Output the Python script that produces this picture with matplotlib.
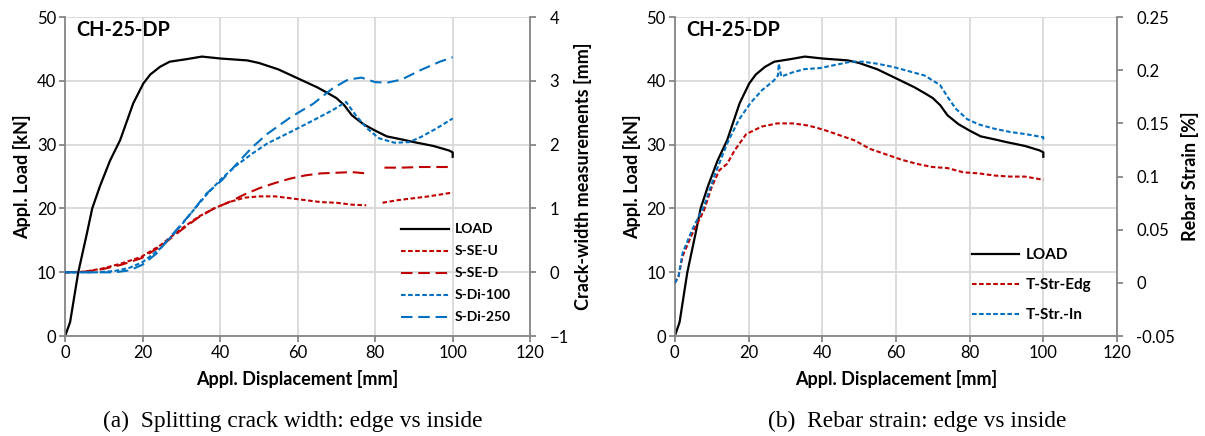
import numpy as np
import matplotlib
matplotlib.use("Agg")
import matplotlib.pyplot as plt

plt.rcParams['font.family'] = ['Lato', 'DejaVu Sans']

nan = np.nan

# LOAD curve (shared by both panels): displacement [mm], load [kN]
load_x = [0, 1.3, 3.4, 5.6, 7, 9, 11.6, 14.2, 17.6, 20.2, 22, 24.5, 27, 31.4, 35.3, 40, 47, 50,
          55, 60, 65, 68, 70, 72, 74, 77, 80, 83, 87, 90, 95, 99, 100, 100]
load_y = [0, 2.2, 10, 16, 20, 23.5, 27.5, 30.7, 36.5, 39.6, 41, 42.2, 43, 43.4, 43.8, 43.5, 43.2, 42.8,
          41.8, 40.4, 39.0, 38.0, 37.3, 36.2, 34.6, 33.2, 32.2, 31.3, 30.8, 30.4, 29.8, 29.1, 28.8, 28.1]

# (a) crack widths [mm]
se_u_x = [0, 5, 9.7, 14.6, 19.6, 24.5, 29.5, 34.4, 38.4, 42.3, 46.3, 50.2, 54.2, 58.2, 62.1, 66, 70, 74, 77.7,
          nan, 81.9, 85.8, 89.8, 93.8, 100]
se_u_w = [0, 0.01, 0.06, 0.14, 0.24, 0.42, 0.66, 0.87, 1.0, 1.1, 1.17, 1.19, 1.19, 1.16, 1.13, 1.1, 1.09, 1.06, 1.05,
          nan, 1.09, 1.13, 1.16, 1.19, 1.25]
se_d_x = [0, 5, 9.7, 14.6, 19.6, 24.5, 29.5, 34.4, 38.4, 42.3, 46.3, 50.2, 54.2, 58.2, 62.1, 66, 70, 74, 77.7,
          nan, 82.4, 86.8, 91.8, 100]
se_d_w = [0, 0.01, 0.05, 0.12, 0.22, 0.4, 0.64, 0.86, 1.0, 1.1, 1.22, 1.32, 1.40, 1.47, 1.52, 1.55, 1.56, 1.57, 1.55,
          nan, 1.64, 1.64, 1.65, 1.65]
di100_x = [0, 8, 12.7, 16.6, 20, 24.5, 28.5, 32.4, 36.4, 40.4, 44.3, 48.3, 52.2, 58.2, 64, 69, 72.5, 75, 78, 81,
           85, 88.8, 91.8, 95.7, 100]
di100_w = [0, 0.0, 0.02, 0.07, 0.16, 0.37, 0.63, 0.92, 1.21, 1.47, 1.68, 1.86, 2.02, 2.2, 2.38, 2.54, 2.67, 2.46,
           2.25, 2.1, 2.03, 2.04, 2.12, 2.25, 2.41]
di250_x = [0, 8, 12.7, 16.6, 20, 23.5, 27.5, 32.4, 36.4, 40.4, 44.3, 48.3, 52.2, 58.2, 64, 69, 73, 76.5, 80, 83,
           86.8, 91.8, 96.7, 100]
di250_w = [0, 0.0, 0.0, 0.03, 0.12, 0.29, 0.58, 0.92, 1.23, 1.44, 1.70, 1.96, 2.17, 2.43, 2.64, 2.88, 3.02, 3.05,
           2.98, 2.97, 3.02, 3.17, 3.3, 3.37]

# (b) rebar strain [%]
edg_x = [0, 1, 2.1, 4.7, 7.9, 10, 12.1, 14.2, 16.3, 19.4, 23.6, 27.8, 32, 36.2, 40.4, 44.6, 48.8, 53, 57.2, 61.4,
         65.6, 69.9, 74, 78.3, 82.5, 86.7, 90.9, 95, 100]
edg_s = [0, 0.006, 0.025, 0.046, 0.068, 0.09, 0.106, 0.112, 0.125, 0.14, 0.147, 0.15, 0.15, 0.148, 0.144, 0.139,
         0.134, 0.126, 0.121, 0.116, 0.112, 0.109, 0.108, 0.104, 0.103, 0.101, 0.1, 0.1, 0.097]
in_x = [0, 1, 2.1, 4.7, 7.9, 11, 14.2, 17.3, 20.5, 23.6, 26.8, 28, 28.2, 28.9, 32, 35.2, 39.4, 43.6, 47.8, 51,
        55.1, 59.3, 63.6, 67.8, 72, 74, 76.2, 79.3, 82.5, 86.7, 90.9, 95, 100, 100]
in_s = [0, 0.006, 0.028, 0.05, 0.072, 0.103, 0.131, 0.153, 0.169, 0.181, 0.19, 0.195, 0.206, 0.194, 0.198, 0.201,
        0.202, 0.205, 0.208, 0.208, 0.206, 0.203, 0.199, 0.195, 0.186, 0.175, 0.164, 0.154, 0.149, 0.145, 0.142,
        0.14, 0.137, 0.134]

RED = '#c00000'
BLUE = '#0070c0'
GRID = '#d9d9d9'
AXC = '#868686'
DOT = (0, (2.2, 1.2))
LDASH = (0, (5.5, 2.8))


def style(ax, ax2, ylab2, yticks2):
    ax.set_xlim(0, 120)
    ax.set_ylim(0, 50)
    ax.set_xticks(range(0, 121, 20))
    ax.set_yticks(range(0, 51, 10))
    ax.grid(True, color=GRID, lw=1.3)
    ax.set_axisbelow(True)
    ax.spines['top'].set_visible(False)
    ax2.spines['top'].set_visible(False)
    for s in ['left', 'bottom']:
        ax.spines[s].set_color(AXC)
        ax.spines[s].set_linewidth(1.3)
        ax2.spines[s].set_visible(False)
    ax2.spines['right'].set_color(AXC)
    ax2.spines['right'].set_linewidth(1.3)
    ax.spines['right'].set_visible(False)
    ax.tick_params(direction='out', length=4, width=1.3, color=AXC, labelsize=12, pad=2.5)
    ax2.tick_params(direction='out', length=4, width=1.3, color=AXC, labelsize=12, pad=10)
    ax2.set_yticks(yticks2)
    ax.set_xlabel('Appl. Displacement [mm]', fontsize=13, fontweight='bold', labelpad=6)
    ax.set_ylabel('Appl. Load [kN]', fontsize=13, fontweight='bold', labelpad=4)
    ax2.set_ylabel(ylab2, fontsize=13, fontweight='bold', labelpad=4)
    ax.text(0.025, 0.99, 'CH-25-DP', transform=ax.transAxes, fontsize=14.3,
            fontweight='bold', va='top', ha='left')


fig = plt.figure(figsize=(12.05, 4.36), dpi=100)

# (a) splitting crack width
ax = fig.add_axes([0.054, 0.229, 0.386, 0.732])
ax2 = ax.twinx()
ax2.set_ylim(-1, 4)
h0, = ax.plot(load_x, load_y, color='black', lw=1.6, label='LOAD')
h1, = ax2.plot(se_u_x, se_u_w, color=RED, lw=1.5, ls=DOT, label='S-SE-U')
h2, = ax2.plot(se_d_x, se_d_w, color=RED, lw=1.5, ls=LDASH, label='S-SE-D')
h3, = ax2.plot(di100_x, di100_w, color=BLUE, lw=1.5, ls=DOT, label='S-Di-100')
h4, = ax2.plot(di250_x, di250_w, color=BLUE, lw=1.5, ls=LDASH, label='S-Di-250')
style(ax, ax2, 'Crack-width measurements [mm]', range(-1, 5))
ax2.legend(handles=[h0, h1, h2, h3, h4], loc='upper left', bbox_to_anchor=(0.708, 0.375),
           frameon=False, handlelength=3.45, handletextpad=0.4, labelspacing=0.72, borderpad=0,
           prop={'weight': 'bold', 'size': 10})

# (b) rebar strain
bx = fig.add_axes([0.560, 0.229, 0.367, 0.732])
bx2 = bx.twinx()
bx2.set_ylim(-0.05, 0.25)
g0, = bx.plot(load_x, load_y, color='black', lw=1.6, label='LOAD')
g1, = bx2.plot(edg_x, edg_s, color=RED, lw=1.5, ls=DOT, label='T-Str-Edg')
g2, = bx2.plot(in_x, in_s, color=BLUE, lw=1.5, ls=DOT, label='T-Str.-In')
style(bx, bx2, 'Rebar Strain [%]', [-0.05, 0, 0.05, 0.1, 0.15, 0.2, 0.25])
bx2.set_yticklabels(['-0.05', '0', '0.05', '0.1', '0.15', '0.2', '0.25'])
bx2.legend(handles=[g0, g1, g2], loc='upper left', bbox_to_anchor=(0.655, 0.3),
           frameon=False, handlelength=3.1, handletextpad=0.4, labelspacing=1.05, borderpad=0,
           prop={'weight': 'bold', 'size': 11})

cap = dict(fontsize=16.8, family='Liberation Serif', ha='center', va='center')
fig.text(293 / 1205, 1 - 421 / 436, '(a)  Splitting crack width: edge vs inside', **cap)
fig.text(917 / 1205, 1 - 421 / 436, '(b)  Rebar strain: edge vs inside', **cap)

fig.savefig('out.png', dpi=100)
